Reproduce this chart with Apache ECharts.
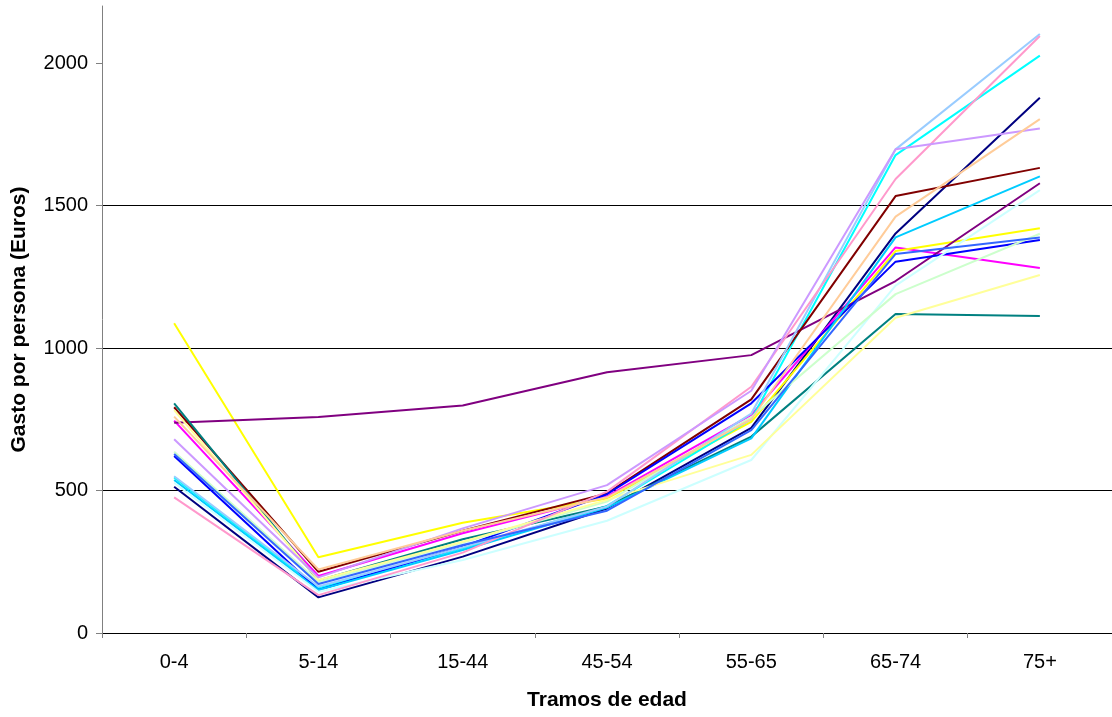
<!DOCTYPE html>
<html>
<head>
<meta charset="utf-8">
<script src="https://cdn.jsdelivr.net/npm/echarts@6/dist/echarts.min.js"></script>
<style>
html,body{margin:0;padding:0;background:#fff;}
#chart{width:1112px;height:717px;}
</style>
</head>
<body>
<div id="chart"></div>
<script>
var categories = ['0-4', '5-14', '15-44', '45-54', '55-65', '65-74', '75+'];
var yTicks = [0, 500, 1000, 1500, 2000];

var s01 = [513, 125, 268, 437, 720, 1402, 1878];
var s02 = [745, 200, 350, 479, 765, 1353, 1281];
var s03 = [1087, 266, 387, 472, 741, 1340, 1420];
var s04 = [546, 157, 297, 446, 750, 1677, 2026];
var s05 = [738, 758, 798, 915, 975, 1235, 1578];
var s06 = [792, 215, 359, 490, 820, 1533, 1632];
var s07 = [806, 184, 329, 444, 689, 1119, 1112];
var s08 = [621, 151, 303, 487, 806, 1303, 1379];
var s09 = [537, 151, 291, 440, 683, 1388, 1602];
var s10 = [527, 145, 256, 394, 607, 1219, 1554];
var s11 = [636, 180, 317, 461, 757, 1189, 1401];
var s12 = [782, 186, 320, 467, 625, 1106, 1256];
var s13 = [550, 163, 301, 444, 770, 1697, 2102];
var s14 = [476, 133, 282, 496, 864, 1593, 2095];
var s15 = [680, 195, 367, 519, 850, 1697, 1770];
var s16 = [759, 223, 359, 476, 750, 1461, 1803];
var s17 = [628, 172, 309, 429, 712, 1330, 1388];

var seriesNames = ['Serie 1','Serie 2','Serie 3','Serie 4','Serie 5','Serie 6','Serie 7','Serie 8','Serie 9',
  'Serie 10','Serie 11','Serie 12','Serie 13','Serie 14','Serie 15','Serie 16','Serie 17'];
var seriesData = [s01,s02,s03,s04,s05,s06,s07,s08,s09,s10,s11,s12,s13,s14,s15,s16,s17];
var colors = ['#000080','#FF00FF','#FFFF00','#00FFFF','#800080','#800000','#008080','#0000FF','#00CCFF',
  '#CCFFFF','#CCFFCC','#FFFF99','#99CCFF','#FF99CC','#CC99FF','#FFCC99','#3366FF'];

var chart = echarts.init(document.getElementById('chart'), null, {renderer: 'canvas'});
var font = 'Liberation Sans, Arial, sans-serif';

chart.setOption({
  animation: false,
  backgroundColor: '#ffffff',
  color: colors,
  grid: {left: 102, right: 0, top: 6, bottom: 84, containLabel: false},
  xAxis: {
    type: 'category',
    data: categories,
    boundaryGap: true,
    name: 'Tramos de edad',
    nameLocation: 'middle',
    nameGap: 57,
    nameTextStyle: {fontFamily: font, fontSize: 21, fontWeight: 'bold', color: '#000'},
    axisLine: {lineStyle: {color: '#000', width: 1}},
    axisTick: {show: true, length: 5, lineStyle: {color: '#808080'}},
    axisLabel: {fontFamily: font, fontSize: 20, color: '#000', margin: 19},
    splitLine: {show: false}
  },
  yAxis: {
    type: 'value',
    min: 0,
    max: 2200,
    interval: 500,
    name: 'Gasto por persona (Euros)',
    nameLocation: 'middle',
    nameGap: 72,
    nameTextStyle: {fontFamily: font, fontSize: 21, fontWeight: 'bold', color: '#000'},
    axisLine: {show: true, lineStyle: {color: '#808080', width: 1}},
    axisTick: {show: true, length: 6, lineStyle: {color: '#808080'}, customValues: yTicks},
    axisLabel: {fontFamily: font, fontSize: 20, color: '#000', margin: 14, customValues: yTicks,
      formatter: function (v) { return String(v); }},
    splitLine: {show: true, showMaxLine: false, showMinLine: false, lineStyle: {color: '#000', width: 1}}
  },
  series: seriesData.map(function (d, i) {
    return {
      name: seriesNames[i],
      type: 'line',
      data: d,
      symbol: 'none',
      smooth: false,
      lineStyle: {width: 2, color: colors[i]},
      itemStyle: {color: colors[i]}
    };
  })
});
</script>
</body>
</html>
